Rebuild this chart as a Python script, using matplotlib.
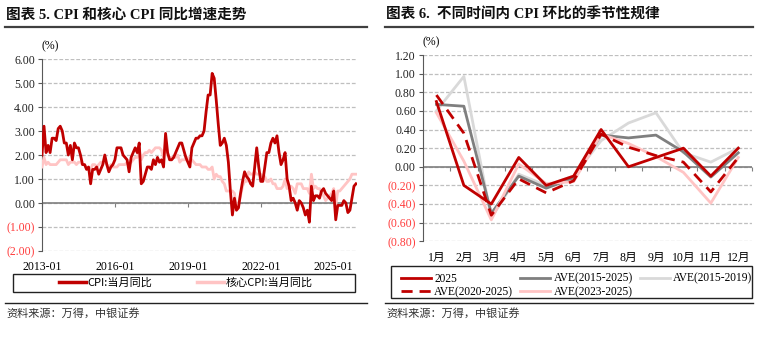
import numpy as np
import pandas as pd
import matplotlib
matplotlib.use("Agg")
import matplotlib.pyplot as plt
from matplotlib.patches import Rectangle
from matplotlib.lines import Line2D

# ---- data: left panel (monthly YoY, %) ----
months = pd.period_range("2013-01", "2025-12", freq="M").strftime("%Y-%m").tolist()
cpi_yoy = [
    2.0, 3.2, 2.1, 2.4, 2.1, 2.7, 2.7, 2.6, 3.1, 3.2, 3.0, 2.5,
    2.5, 2.0, 2.4, 1.8, 2.5, 2.3, 2.3, 2.0, 1.6, 1.6, 1.4, 1.5,
    0.8, 1.4, 1.4, 1.5, 1.2, 1.4, 1.6, 2.0, 1.6, 1.3, 1.5, 1.6,
    1.8, 2.3, 2.3, 2.3, 2.0, 1.9, 1.8, 1.3, 1.9, 2.1, 2.3, 2.1,
    2.5, 0.8, 0.9, 1.2, 1.5, 1.5, 1.4, 1.8, 1.6, 1.9, 1.7, 1.8,
    1.5, 2.9, 2.1, 1.8, 1.8, 1.9, 2.1, 2.3, 2.5, 2.5, 2.2, 1.9,
    1.7, 1.5, 2.3, 2.5, 2.7, 2.7, 2.8, 2.8, 3.0, 3.8, 4.5, 4.5,
    5.4, 5.2, 4.3, 3.3, 2.4, 2.5, 2.7, 2.4, 1.7, 0.5, -0.5, 0.2,
    -0.3, -0.2, 0.4, 0.9, 1.3, 1.1, 1.0, 0.8, 0.7, 1.5, 2.3, 1.5,
    0.9, 0.9, 1.5, 2.1, 2.1, 2.5, 2.7, 2.5, 2.8, 2.1, 1.6, 1.8,
    2.1, 1.0, 0.7, 0.1, 0.2, 0.0, -0.3, 0.1, 0.0, -0.2, -0.5, -0.3,
    -0.8, 0.7, 0.1, 0.3, 0.3, 0.2, 0.5, 0.6, 0.4, 0.3, 0.2, 0.1,
    0.5, -0.7, -0.1, -0.1, -0.1, 0.1, 0.0, -0.4, -0.3, 0.2, 0.7, 0.8,
]
core_yoy = [
    1.5, 1.9, 1.6, 1.7, 1.6, 1.6, 1.6, 1.6, 1.7, 1.8, 1.8, 1.8,
    1.8, 1.6, 1.7, 1.7, 1.7, 1.6, 1.7, 1.7, 1.6, 1.6, 1.5, 1.4,
    1.4, 1.6, 1.6, 1.5, 1.6, 1.7, 1.7, 1.7, 1.6, 1.5, 1.6, 1.5,
    1.5, 1.5, 1.6, 1.6, 1.6, 1.6, 1.7, 1.6, 1.7, 1.8, 1.9, 1.9,
    2.2, 1.8, 2.0, 2.1, 2.1, 2.2, 2.1, 2.2, 2.3, 2.3, 2.3, 2.2,
    1.9, 2.5, 2.0, 1.9, 1.9, 1.9, 1.9, 2.0, 1.7, 1.8, 1.8, 1.8,
    1.9, 1.8, 1.8, 1.7, 1.6, 1.6, 1.6, 1.5, 1.5, 1.5, 1.4, 1.4,
    1.5, 1.0, 1.2, 1.1, 1.1, 0.9, 0.8, 0.5, 0.5, 0.5, 0.5, 0.4,
    -0.3, 0.0, 0.3, 0.7, 0.9, 0.9, 1.3, 1.2, 1.2, 1.3, 1.2, 1.2,
    1.2, 1.1, 1.1, 0.9, 0.9, 1.0, 0.8, 0.8, 0.6, 0.6, 0.6, 0.7,
    1.0, 0.6, 0.7, 0.7, 0.6, 0.4, 0.8, 0.8, 0.8, 0.6, 0.6, 0.6,
    0.4, 1.2, 0.6, 0.7, 0.6, 0.6, 0.4, 0.3, 0.1, 0.2, 0.3, 0.4,
    0.6, -0.1, 0.5, 0.5, 0.6, 0.7, 0.8, 0.9, 1.0, 1.2, 1.2, 1.2,
]
left_ticks = ["2013-01", "2016-01", "2019-01", "2022-01", "2025-01"]
left_yticks = [-2, -1, 0, 1, 2, 3, 4, 5, 6]

# ---- data: right panel (MoM, %) ----
month_names = ["1月", "2月", "3月", "4月", "5月", "6月", "7月", "8月", "9月", "10月", "11月", "12月"]
mom_2025 = [0.70, -0.20, -0.40, 0.10, -0.20, -0.10, 0.40, 0.00, 0.10, 0.20, -0.10, 0.20]
ave_15_25 = [0.67, 0.65, -0.50, -0.10, -0.23, -0.12, 0.34, 0.31, 0.34, 0.16, -0.11, 0.15]
ave_15_19 = [0.60, 0.97, -0.55, -0.08, -0.20, -0.10, 0.28, 0.47, 0.58, 0.15, 0.05, 0.20]
ave_20_25 = [0.77, 0.36, -0.52, -0.13, -0.28, -0.15, 0.35, 0.21, 0.12, 0.05, -0.27, 0.10]
ave_23_25 = [0.58, 0.06, -0.57, 0.03, -0.18, -0.16, 0.35, 0.25, 0.11, -0.06, -0.39, 0.10]
right_yticks = [-0.8, -0.6, -0.4, -0.2, 0.0, 0.2, 0.4, 0.6, 0.8, 1.0, 1.2]

RED = "#C00000"
PINK = "#FFC4C4"
GRAY = "#7F7F7F"
LGRAY = "#D9D9D9"
NEG = "#FF3B3B"
SERIF = ["Liberation Serif", "Noto Sans CJK SC"]
CJK = ["Noto Sans CJK SC", "DejaVu Sans"]

W, H = 758, 338
fig = plt.figure(figsize=(W / 100, H / 100), dpi=100)


def box(x0, y0, x1, y1):
    # pixel box (top-left origin) -> figure fraction rect
    return [x0 / W, 1 - y1 / H, (x1 - x0) / W, (y1 - y0) / H]


def fmt(v):
    return "({:.2f})".format(abs(v)) if v < 0 else "{:.2f}".format(v)


def style_axes(ax, yticks, zero_loc):
    for s in ["top", "right", "bottom"]:
        ax.spines[s].set_visible(False)
    ax.spines["left"].set_color("#595959")
    ax.set_yticks(yticks, labels=[fmt(v) for v in yticks])
    for lbl, v in zip(ax.get_yticklabels(), yticks):
        lbl.set_color(NEG if v < 0 else "#222222")
        lbl.set_fontfamily(SERIF)
        lbl.set_fontsize(8.5)
    ax.tick_params(axis="y", length=3, color="#595959", pad=2)
    ax.tick_params(axis="x", length=0)
    ax.grid(axis="y", color="#BFBFBF", linestyle=(0, (3, 1.5)), linewidth=0.9)
    ax.set_axisbelow(True)
    ax.axhline(0, color="#7F7F7F", linewidth=1.2, zorder=1)
    zx = ax.secondary_xaxis(zero_loc)
    zx.spines["bottom"].set_visible(False)
    zx.tick_params(axis="x", direction="out", length=3, color="#7F7F7F", labelbottom=False)
    return zx


# ================= left panel =================
axl = fig.add_axes(box(42, 59, 357, 251))
x = np.arange(len(months))
axl.plot(x, core_yoy, color=PINK, linewidth=2.0, zorder=3)
axl.plot(x, cpi_yoy, color=RED, linewidth=2.0, zorder=4)
axl.set_ylim(-2, 6)
axl.set_xlim(0, len(months) - 0.5)
zx = style_axes(axl, left_yticks, 0.25)
tick_pos = [months.index(t) for t in left_ticks]
axl.set_xticks(tick_pos, labels=left_ticks)
for lbl in axl.get_xticklabels():
    lbl.set_fontfamily(SERIF)
    lbl.set_fontsize(8.5)
axl.tick_params(axis="x", pad=7)
zx.set_xticks(tick_pos)
axl.text(0.0, 1.035, "(%)", transform=axl.transAxes, fontsize=8.5, family=SERIF, va="bottom", ha="left")

# ================= right panel =================
axr = fig.add_axes(box(422.7, 55, 752, 241.3))
m = np.arange(len(month_names))
axr.plot(m, ave_15_19, color=LGRAY, linewidth=2.0, zorder=3, label="AVE(2015-2019)")
axr.plot(m, ave_15_25, color=GRAY, linewidth=2.0, zorder=4, label="AVE(2015-2025)")
axr.plot(m, ave_23_25, color=PINK, linewidth=2.0, zorder=5, label="AVE(2023-2025)")
axr.plot(m, ave_20_25, color=RED, linewidth=2.0, linestyle=(0, (4, 2.5)), zorder=6, label="AVE(2020-2025)")
axr.plot(m, mom_2025, color=RED, linewidth=2.0, zorder=7, label="2025")
axr.set_ylim(-0.8, 1.2)
axr.set_xlim(-0.5, len(month_names) - 0.5)
zr = style_axes(axr, right_yticks, 0.4)
axr.set_xticks(m, labels=month_names)
for lbl in axr.get_xticklabels():
    lbl.set_fontfamily(SERIF)
    lbl.set_fontsize(8.5)
axr.tick_params(axis="x", pad=8)
zr.set_xticks(np.arange(len(month_names) + 1) - 0.5)
axr.text(0.0, 1.035, "(%)", transform=axr.transAxes, fontsize=8.5, family=SERIF, va="bottom", ha="left")

# ================= titles, rules, legends, sources =================
fig.text(6 / W, 1 - 15 / H, "图表 5. CPI 和核心 CPI 同比增速走势", fontsize=10.5, fontweight="bold",
         family=SERIF, va="center", ha="left", color="#111111")
fig.text(386 / W, 1 - 15 / H, "图表 6.  不同时间内 CPI 环比的季节性规律", fontsize=10.5, fontweight="bold",
         family=SERIF, va="center", ha="left", color="#111111")
for x0, x1 in [(5, 367), (385, 753)]:
    fig.add_artist(Line2D([x0 / W, x1 / W], [1 - 26.5 / H] * 2, color="#404040", linewidth=1.6))
    fig.add_artist(Line2D([x0 / W, x1 / W], [1 - 302.5 / H] * 2, color="#222222", linewidth=1.0))
    fig.text((x0 + 1) / W, 1 - 313 / H, "资料来源：万得，中银证券", fontsize=8, family=CJK,
             va="center", ha="left", color="#333333", style="italic")

fig.add_artist(Rectangle((13 / W, 1 - 292 / H), 342 / W, 18 / H, transform=fig.transFigure,
                         fill=False, edgecolor="#222222", linewidth=1.0))
lh = [Line2D([], [], color=RED, linewidth=2.5), Line2D([], [], color=PINK, linewidth=2.5)]
fig.legend(lh, ["CPI:当月同比", "核心CPI:当月同比"], loc="center", bbox_to_anchor=(186 / W, 1 - 283 / H),
           ncol=2, frameon=False, prop={"family": CJK, "size": 8}, handlelength=2.4,
           handletextpad=0.2, columnspacing=4.0, borderpad=0)

fig.add_artist(Rectangle((391 / W, 1 - 297.7 / H), 361 / W, 31.7 / H, transform=fig.transFigure,
                         fill=False, edgecolor="#222222", linewidth=1.0))
hd, lb = axr.get_legend_handles_labels()
order = ["2025", "AVE(2020-2025)", "AVE(2015-2025)", "AVE(2023-2025)", "AVE(2015-2019)"]
hmap = dict(zip(lb, hd))
fig.legend([hmap[k] for k in order], order, loc="upper left", bbox_to_anchor=(395 / W, 1 - 267 / H),
           ncol=3, frameon=False, prop={"family": SERIF, "size": 8.3}, handlelength=2.6,
           handletextpad=0.3, columnspacing=0.6, borderpad=0, labelspacing=0.15)

fig.savefig("out.png", dpi=100, facecolor="white")
